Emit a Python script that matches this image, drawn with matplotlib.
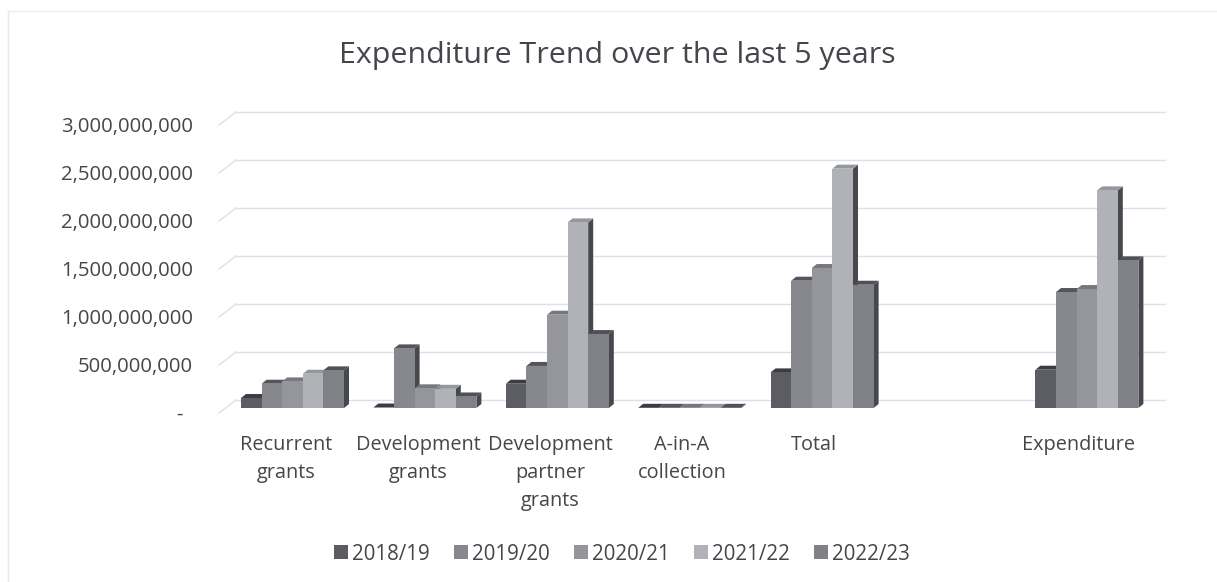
"""
Expenditure trend per funding source, drawn as bars with a 3-D look
"""

import matplotlib
matplotlib.use("Agg")
import matplotlib.pyplot as plt
from matplotlib.patches import Patch, Polygon

plt.rcParams['font.family'] = ['Open Sans', 'DejaVu Sans']

categories = ["Recurrent\ngrants", "Development\ngrants", "Development\npartner\ngrants",
              "A-in-A\ncollection", "Total", "", "Expenditure"]
years = ["2018/19", "2019/20", "2020/21", "2021/22", "2022/23"]

y2018 = [104e6, 5e6, 253e6, 2e6, 371e6, 0, 399e6]
y2019 = [253e6, 621e6, 438e6, 2e6, 1326e6, 0, 1208e6]
y2020 = [277e6, 205e6, 972e6, 2e6, 1458e6, 0, 1239e6]
y2021 = [357e6, 200e6, 1933e6, 2e6, 2493e6, 0, 2267e6]
y2022 = [392e6, 120e6, 770e6, 2e6, 1284e6, 0, 1538e6]
series = [y2018, y2019, y2020, y2021, y2022]

ticks = [0, 500e6, 1000e6, 1500e6, 2000e6, 2500e6, 3000e6]
tick_labels = ["-", "500,000,000", "1,000,000,000", "1,500,000,000",
               "2,000,000,000", "2,500,000,000", "3,000,000,000"]

colors = ["#5b5d62", "#87888d", "#95969b", "#b1b2b7", "#808186"]
top_colors = ["#3c3d42", "#55565b", "#77787d", "#96979b", "#505156"]
side_color = "#47484d"
grid_color = "#dcdfec"
text_color = "#45464b"

W, H = 1217, 582
PX = 500e6 / 48          # value per pixel, vertically
BASE_Y = 408
BAR_W = 20.6
DEPTH_X, DEPTH_Y = 5, 4

fig = plt.figure(figsize=(W / 100, H / 100), dpi=100)
ax = fig.add_axes([0, 0, 1, 1])
ax.set_xlim(0, W)
ax.set_ylim((BASE_Y - H) * PX, BASE_Y * PX)
ax.axis("off")

# chart frame, only top and left show up
top_edge = (BASE_Y - 11) * PX
ax.plot([8, W], [top_edge, top_edge], color="#eeeef3", lw=1)
ax.plot([8, 8], [top_edge, (BASE_Y - H) * PX], color="#e8e8ef", lw=1)

# back wall grid with the short floor diagonals
for t in ticks:
    y_back = t + 8 * PX
    ax.plot([236, 1165], [y_back, y_back], color=grid_color, lw=1, zorder=1)
    ax.plot([219, 236], [y_back - 13 * PX, y_back], color=grid_color, lw=1, zorder=1)

for i in range(len(categories)):
    if not categories[i]:
        continue
    left = 241 + 132.4 * i
    # left to right, so a taller neighbour hides the side face of the bar before it
    for s in range(len(series)):
        v = series[s][i]
        x0 = left + s * BAR_W
        x1 = x0 + BAR_W
        z = 3 + s
        dx, dy = DEPTH_X, DEPTH_Y * PX
        ax.add_patch(Polygon([(x1, 0), (x1 + dx, dy), (x1 + dx, v + dy), (x1, v)],
                             fc=side_color, ec="none", zorder=z))
        ax.add_patch(Polygon([(x0, v), (x0 + dx, v + dy), (x1 + dx, v + dy), (x1, v)],
                             fc=top_colors[s], ec="none", zorder=z))
        ax.bar(x0, v, BAR_W, align="edge", color=colors[s], zorder=z)

# value labels on the left
for t, lab in zip(ticks, tick_labels):
    ax.text(193 if lab != "-" else 183, t - 7 * PX, lab, ha="right", va="center",
            fontsize=14.6, color=text_color)

# category labels
for i, lab in enumerate(categories):
    ax.text(286 + 132 * i, (BASE_Y - 435) * PX, lab, ha="center", va="top",
            fontsize=14.3, color=text_color, linespacing=1.52)

ax.text(617, (BASE_Y - 55) * PX, "Expenditure Trend over the last 5 years", ha="center", va="center",
        fontsize=21.9, color=text_color)

handles = [Patch(fc=c, ec="none") for c in colors]
ax.legend(handles, years, ncol=5, loc="center", bbox_to_anchor=(622 / W, 1 - 554 / H),
          frameon=False, fontsize=14.8, labelcolor=text_color, handlelength=0.65, handleheight=0.65,
          handletextpad=0.2, columnspacing=1.2)

fig.savefig("out.png", dpi=100, facecolor="white")
